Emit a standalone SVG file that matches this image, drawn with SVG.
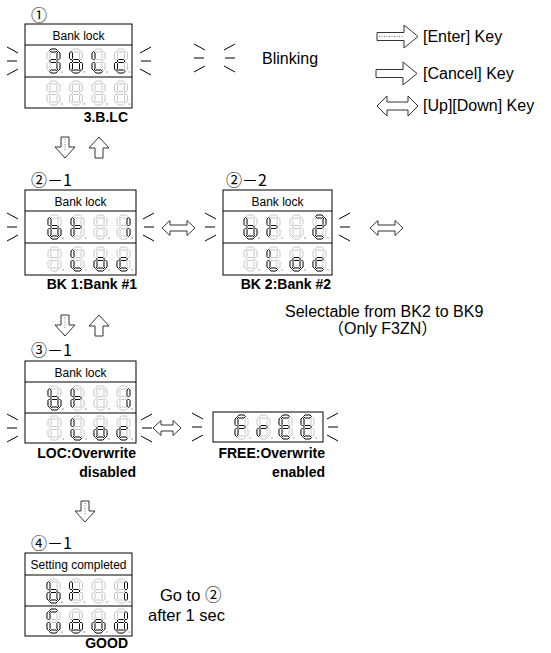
<svg xmlns="http://www.w3.org/2000/svg" xmlns:xlink="http://www.w3.org/1999/xlink" width="551" height="653" viewBox="0 0 551 653">
<style>
text{font-family:"Liberation Sans","Noto Sans CJK JP",sans-serif;fill:#000}
.title{font-size:12px;text-anchor:middle}
.lbl{font-size:14px;font-weight:bold;text-anchor:end}
.step{font-family:"Noto Sans CJK JP",sans-serif;font-size:16px}
.txt{font-size:16px}
.box{fill:#fff;stroke:#000;stroke-width:1}
.div{stroke:#000;stroke-width:1}
.on{fill:#fff;stroke:#000;stroke-width:0.95}
.blink{fill:none;stroke:#000;stroke-width:1}
.arr{fill:#fff;stroke:#333;stroke-width:1}
.dots{fill:none;stroke:#555;stroke-width:0.8;stroke-dasharray:1 1.5}
</style>
<defs>
<polygon id="sa" points="2.5,1.5 4,0 9,0 10.5,1.5 9,3 4,3"/>
<polygon id="sg" points="2.5,12 4,10.5 9,10.5 10.5,12 9,13.5 4,13.5"/>
<polygon id="sd" points="2.5,22.5 4,21 9,21 10.5,22.5 9,24 4,24"/>
<polygon id="sf" points="1.5,2.5 3,4 3,9.5 1.5,11 0,9.5 0,4"/>
<polygon id="sb" points="11.5,2.5 13,4 13,9.5 11.5,11 10,9.5 10,4"/>
<polygon id="se" points="1.5,13 3,14.5 3,20 1.5,21.5 0,20 0,14.5"/>
<polygon id="sc" points="11.5,13 13,14.5 13,20 11.5,21.5 10,20 10,14.5"/>
<g id="d8" fill="#fff" stroke="#b8b8b8" stroke-width="0.8">
<use href="#sa"/><use href="#sb"/><use href="#sc"/><use href="#sd"/><use href="#se"/><use href="#sf"/><use href="#sg"/>
<circle cx="15" cy="23" r="0.9" fill="#b8b8b8" stroke="none"/>
</g>
<g id="blL" class="blink"><line x1="0" y1="-14" x2="11" y2="-8"/><line x1="0" y1="0" x2="10" y2="0"/><line x1="0" y1="14" x2="11" y2="8"/></g>
<g id="blR" class="blink"><line x1="11" y1="-14" x2="0" y2="-8"/><line x1="1" y1="0" x2="11" y2="0"/><line x1="11" y1="14" x2="0" y2="8"/></g>
<path id="aDown" d="M-4,0 H4 V10 H10 L0,21 L-10,10 H-4 Z"/>
<path id="aUp" d="M0,0 L10,11 H4 V21 H-4 V11 H-10 Z"/>
<path id="aLR" d="M0,0 L8,-7.5 V-3 H25 V-7.5 L33,0 L25,7.5 V3 H8 V7.5 Z"/>
<path id="aLRs" d="M0,0 L8,-7.5 V-3 H20 V-7.5 L28,0 L20,7.5 V3 H8 V7.5 Z"/>
<path id="aRight" d="M0,-4 H27 V-11.5 L41,0 L27,11.5 V4 H0 Z"/>
<path id="aLRbig" d="M0,0 L10,-10 V-4 H31 V-10 L41,0 L31,10 V4 H10 V10 Z"/>
</defs>
<rect width="551" height="653" fill="#fff"/>

<g id="legend">
<use href="#blL" x="194" y="58"/><use href="#blR" x="224" y="58"/>
<text class="txt" x="262" y="64">Blinking</text>
<g id="legend-enter"><use href="#aRight" class="arr" x="377" y="36.5"/><line class="dots" x1="379" y1="36.5" x2="403" y2="36.5"/><text class="txt" x="423" y="42">[Enter] Key</text></g>
<g id="legend-cancel"><use href="#aRight" class="arr" x="376" y="73.5"/><text class="txt" x="423" y="79">[Cancel] Key</text></g>
<g id="legend-updown"><use href="#aLRbig" class="arr" x="377" y="106"/><text class="txt" x="423" y="111">[Up][Down] Key</text></g>
</g>

<g id="connectors">
<use href="#aDown" class="arr" x="65" y="137"/><line class="dots" x1="65" y1="139" x2="65" y2="151"/>
<use href="#aUp" class="arr" x="99" y="137"/>
<use href="#aLR" class="arr" x="162" y="228"/>
<use href="#aLR" class="arr" x="370" y="228"/>
<use href="#aDown" class="arr" x="65" y="315"/><line class="dots" x1="65" y1="317" x2="65" y2="329"/>
<use href="#aUp" class="arr" x="99" y="315"/>
<use href="#aLRs" class="arr" x="153" y="428"/>
<use href="#aDown" class="arr" x="85" y="501"/><line class="dots" x1="85" y1="503" x2="85" y2="515"/>
</g>

<g id="step1">
<text class="step" x="31" y="21">①</text>
<rect class="box" x="25" y="24" width="107" height="84"/>
<line class="div" x1="25" y1="45" x2="132" y2="45"/><line class="div" x1="25" y1="77" x2="132" y2="77"/>
<text class="title" x="78.5" y="39.5">Bank lock</text>
<g transform="translate(47,49)"><use href="#d8"/><use href="#sa" class="on"/><use href="#sb" class="on"/><use href="#sc" class="on"/><use href="#sd" class="on"/><use href="#sg" class="on"/></g>
<g transform="translate(69.5,49)"><use href="#d8"/><use href="#sc" class="on"/><use href="#sd" class="on"/><use href="#se" class="on"/><use href="#sf" class="on"/><use href="#sg" class="on"/></g>
<g transform="translate(92,49)"><use href="#d8"/><use href="#sd" class="on"/><use href="#se" class="on"/><use href="#sf" class="on"/></g>
<g transform="translate(114.5,49)"><use href="#d8"/><use href="#sd" class="on"/><use href="#se" class="on"/><use href="#sg" class="on"/></g>
<use href="#d8" x="47" y="81"/><use href="#d8" x="69.5" y="81"/><use href="#d8" x="92" y="81"/><use href="#d8" x="114.5" y="81"/>
<use href="#blL" x="7" y="61"/><use href="#blR" x="140" y="61"/>
<text class="lbl" x="128" y="122">3.B.LC</text>
</g>

<g id="step2-1">
<text class="step" x="31" y="186">②－1</text>
<rect class="box" x="25" y="190" width="111" height="85"/>
<line class="div" x1="25" y1="211" x2="136" y2="211"/><line class="div" x1="25" y1="243" x2="136" y2="243"/>
<text class="title" x="80.5" y="205.5">Bank lock</text>
<g transform="translate(48,215)"><use href="#d8"/><use href="#sc" class="on"/><use href="#sd" class="on"/><use href="#se" class="on"/><use href="#sf" class="on"/><use href="#sg" class="on"/></g>
<g transform="translate(71,215)"><use href="#d8"/><use href="#se" class="on"/><use href="#sf" class="on"/><use href="#sg" class="on"/></g>
<g transform="translate(94,215)"><use href="#d8"/></g>
<g transform="translate(117,215)"><use href="#d8"/><use href="#sb" class="on"/><use href="#sc" class="on"/></g>
<g transform="translate(48,247)"><use href="#d8"/></g>
<g transform="translate(71,247)"><use href="#d8"/><use href="#sd" class="on"/><use href="#se" class="on"/><use href="#sf" class="on"/></g>
<g transform="translate(94,247)"><use href="#d8"/><use href="#sc" class="on"/><use href="#sd" class="on"/><use href="#se" class="on"/><use href="#sg" class="on"/></g>
<g transform="translate(117,247)"><use href="#d8"/><use href="#sd" class="on"/><use href="#se" class="on"/><use href="#sg" class="on"/></g>
<use href="#blL" x="7" y="227"/><use href="#blR" x="143" y="227"/>
<text class="lbl" x="137" y="289">BK 1:Bank #1</text>
</g>

<g id="step2-2">
<text class="step" x="226" y="186">②－2</text>
<rect class="box" x="223" y="190" width="109" height="85"/>
<line class="div" x1="223" y1="211" x2="332" y2="211"/><line class="div" x1="223" y1="243" x2="332" y2="243"/>
<text class="title" x="277.5" y="205.5">Bank lock</text>
<g transform="translate(244,215)"><use href="#d8"/><use href="#sc" class="on"/><use href="#sd" class="on"/><use href="#se" class="on"/><use href="#sf" class="on"/><use href="#sg" class="on"/></g>
<g transform="translate(267,215)"><use href="#d8"/><use href="#se" class="on"/><use href="#sf" class="on"/><use href="#sg" class="on"/></g>
<g transform="translate(290,215)"><use href="#d8"/></g>
<g transform="translate(313,215)"><use href="#d8"/><use href="#sa" class="on"/><use href="#sb" class="on"/><use href="#sg" class="on"/><use href="#se" class="on"/><use href="#sd" class="on"/></g>
<g transform="translate(244,247)"><use href="#d8"/></g>
<g transform="translate(267,247)"><use href="#d8"/><use href="#sd" class="on"/><use href="#se" class="on"/><use href="#sf" class="on"/></g>
<g transform="translate(290,247)"><use href="#d8"/><use href="#sc" class="on"/><use href="#sd" class="on"/><use href="#se" class="on"/><use href="#sg" class="on"/></g>
<g transform="translate(313,247)"><use href="#d8"/><use href="#sd" class="on"/><use href="#se" class="on"/><use href="#sg" class="on"/></g>
<use href="#blL" x="205" y="227"/><use href="#blR" x="339" y="227"/>
<text class="lbl" x="331" y="289">BK 2:Bank #2</text>
</g>

<g id="note-selectable">
<text class="txt" x="285" y="317">Selectable from BK2 to BK9</text>
<text class="txt" x="328" y="334">（Only F3ZN）</text>
</g>

<g id="step3-1">
<text class="step" x="31" y="356">③－1</text>
<rect class="box" x="25" y="361" width="111" height="82"/>
<line class="div" x1="25" y1="382" x2="136" y2="382"/><line class="div" x1="25" y1="413" x2="136" y2="413"/>
<text class="title" x="80.5" y="376.5">Bank lock</text>
<g transform="translate(48,386)"><use href="#d8"/><use href="#sc" class="on"/><use href="#sd" class="on"/><use href="#se" class="on"/><use href="#sf" class="on"/><use href="#sg" class="on"/></g>
<g transform="translate(71,386)"><use href="#d8"/><use href="#se" class="on"/><use href="#sf" class="on"/><use href="#sg" class="on"/></g>
<g transform="translate(94,386)"><use href="#d8"/></g>
<g transform="translate(117,386)"><use href="#d8"/><use href="#sb" class="on"/><use href="#sc" class="on"/></g>
<g transform="translate(48,416)"><use href="#d8"/></g>
<g transform="translate(71,416)"><use href="#d8"/><use href="#sd" class="on"/><use href="#se" class="on"/><use href="#sf" class="on"/></g>
<g transform="translate(94,416)"><use href="#d8"/><use href="#sc" class="on"/><use href="#sd" class="on"/><use href="#se" class="on"/><use href="#sg" class="on"/></g>
<g transform="translate(117,416)"><use href="#d8"/><use href="#sd" class="on"/><use href="#se" class="on"/><use href="#sg" class="on"/></g>
<use href="#blL" x="7" y="428"/><use href="#blR" x="141" y="428"/>
<text class="lbl" x="136" y="458">LOC:Overwrite</text>
<text class="lbl" x="136" y="477">disabled</text>
</g>

<g id="step3-free">
<rect class="box" x="213" y="412" width="110" height="30"/>
<g transform="translate(235,415)"><use href="#d8"/><use href="#sa" class="on"/><use href="#se" class="on"/><use href="#sf" class="on"/><use href="#sg" class="on"/></g>
<g transform="translate(257,415)"><use href="#d8"/><use href="#se" class="on"/><use href="#sg" class="on"/></g>
<g transform="translate(279,415)"><use href="#d8"/><use href="#sa" class="on"/><use href="#sd" class="on"/><use href="#se" class="on"/><use href="#sf" class="on"/><use href="#sg" class="on"/></g>
<g transform="translate(301,415)"><use href="#d8"/><use href="#sa" class="on"/><use href="#sd" class="on"/><use href="#se" class="on"/><use href="#sf" class="on"/><use href="#sg" class="on"/></g>
<use href="#blL" x="192" y="427"/><use href="#blR" x="327" y="427"/>
<text class="lbl" x="325" y="458">FREE:Overwrite</text>
<text class="lbl" x="325" y="477">enabled</text>
</g>

<g id="step4-1">
<text class="step" x="31" y="549">④－1</text>
<rect class="box" x="25" y="553" width="107" height="83"/>
<line class="div" x1="25" y1="575" x2="132" y2="575"/><line class="div" x1="25" y1="606" x2="132" y2="606"/>
<text class="title" x="78.5" y="569">Setting completed</text>
<g transform="translate(47,579)"><use href="#d8"/><use href="#sc" class="on"/><use href="#sd" class="on"/><use href="#se" class="on"/><use href="#sf" class="on"/><use href="#sg" class="on"/></g>
<g transform="translate(69.5,579)"><use href="#d8"/><use href="#se" class="on"/><use href="#sf" class="on"/><use href="#sg" class="on"/></g>
<g transform="translate(92,579)"><use href="#d8"/></g>
<g transform="translate(114.5,579)"><use href="#d8"/><use href="#sb" class="on"/><use href="#sc" class="on"/></g>
<g transform="translate(47,609)"><use href="#d8"/><use href="#sa" class="on"/><use href="#sc" class="on"/><use href="#sd" class="on"/><use href="#se" class="on"/><use href="#sf" class="on"/></g>
<g transform="translate(69.5,609)"><use href="#d8"/><use href="#sc" class="on"/><use href="#sd" class="on"/><use href="#se" class="on"/><use href="#sg" class="on"/></g>
<g transform="translate(92,609)"><use href="#d8"/><use href="#sc" class="on"/><use href="#sd" class="on"/><use href="#se" class="on"/><use href="#sg" class="on"/></g>
<g transform="translate(114.5,609)"><use href="#d8"/><use href="#sb" class="on"/><use href="#sc" class="on"/><use href="#sd" class="on"/><use href="#se" class="on"/><use href="#sg" class="on"/></g>
<text class="lbl" x="128" y="648">GOOD</text>
<text class="txt" x="160" y="601" style="font-size:16.5px">Go to <tspan style="font-family:'Noto Sans CJK JP',sans-serif">②</tspan></text>
<text class="txt" x="148" y="621" style="font-size:16.5px">after 1 sec</text>
</g>
</svg>
